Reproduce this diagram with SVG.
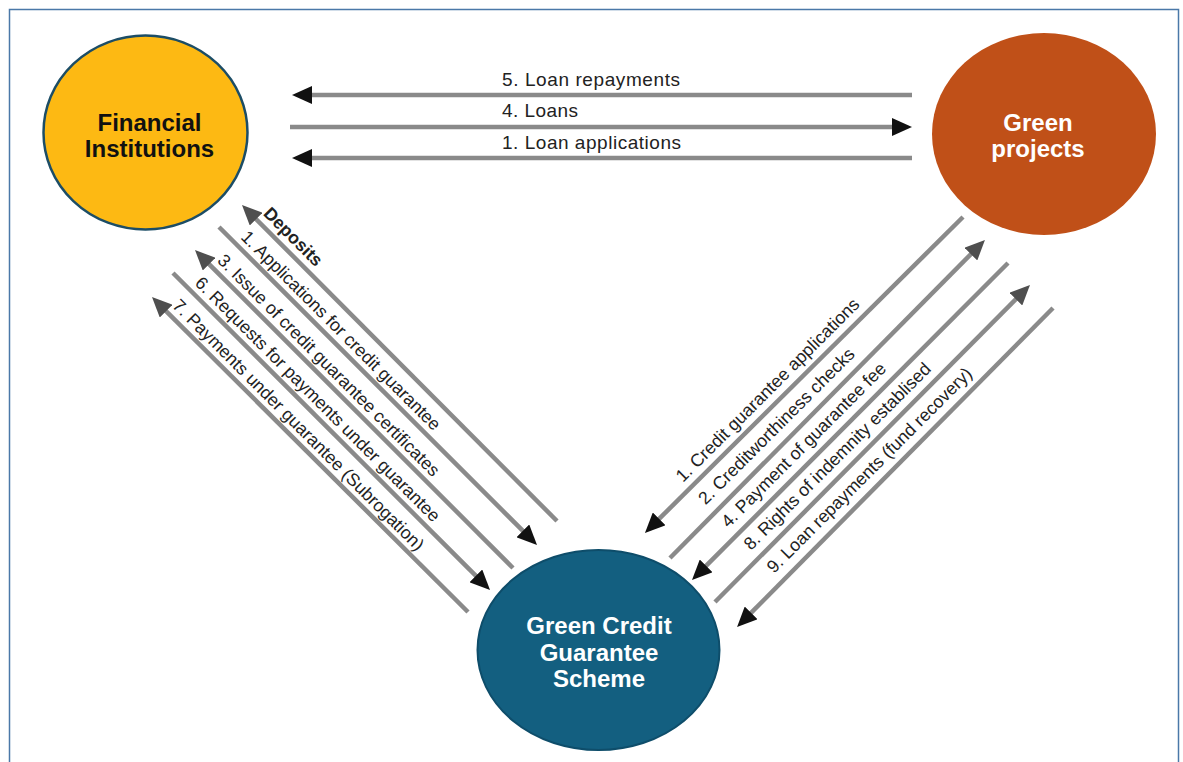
<svg xmlns="http://www.w3.org/2000/svg" width="1183" height="762" viewBox="0 0 1183 762">
  <style>
    .flow { fill: none; stroke: #8a8a8a; stroke-width: 4.5; }
    .fwd { marker-end: url(#headBlack); }
    .back { marker-end: url(#headGray); }
    .lbl { font-family: "Liberation Sans", Arial, sans-serif; font-size: 17.8px; fill: #222; }
    .top { font-size: 19px; }
    .node-text { font-family: "Liberation Sans", Arial, sans-serif; font-weight: bold; font-size: 24px; text-anchor: middle; }
  </style>
  <defs>
    <marker id="headBlack" viewBox="0 0 20 18" markerWidth="20" markerHeight="18" refX="4" refY="9" orient="auto" markerUnits="userSpaceOnUse">
      <path d="M0,0 L20,9 L0,18 Z" fill="#111"/>
    </marker>
    <marker id="headGray" viewBox="0 0 20 18" markerWidth="20" markerHeight="18" refX="4" refY="9" orient="auto" markerUnits="userSpaceOnUse">
      <path d="M0,0 L20,9 L0,18 Z" fill="#4f4f4f"/>
    </marker>
  </defs>

  <!-- page frame -->
  <rect x="0" y="0" width="1183" height="762" fill="#ffffff"/>
  <rect x="9.5" y="9.5" width="1169" height="800" fill="#ffffff" stroke="#4a78a8" stroke-width="1.5"/>

  <!-- connectors -->
  <g id="connectors">
    <!-- between Financial Institutions and Green projects -->
    <line class="flow fwd" x1="912" y1="95" x2="308" y2="95"/>
    <line class="flow fwd" x1="290" y1="127" x2="896" y2="127"/>
    <line class="flow fwd" x1="912" y1="158" x2="308" y2="158"/>

    <!-- between Financial Institutions and the scheme -->
    <line class="flow back" x1="557" y1="521" x2="253.3" y2="216.3"/>
    <line class="flow fwd" x1="219" y1="227" x2="525.7" y2="533.7"/>
    <line class="flow back" x1="513" y1="568" x2="206.3" y2="261.3"/>
    <line class="flow fwd" x1="173" y1="273" x2="478.7" y2="578.7"/>
    <line class="flow back" x1="468" y1="612" x2="163.3" y2="308.3"/>

    <!-- between Green projects and the scheme -->
    <line class="flow fwd" x1="963" y1="217" x2="656.3" y2="521.7"/>
    <line class="flow back" x1="670" y1="558" x2="973.7" y2="251.3"/>
    <line class="flow fwd" x1="1008" y1="263" x2="703.3" y2="568.7"/>
    <line class="flow back" x1="715" y1="602" x2="1018.7" y2="296.3"/>
    <line class="flow fwd" x1="1053" y1="308" x2="748.3" y2="615.7"/>

    <!-- labels -->
    <text class="lbl top" x="502" y="86" textLength="178">5. Loan repayments</text>
    <text class="lbl top" x="502" y="117" textLength="76">4. Loans</text>
    <text class="lbl top" x="502" y="149" textLength="179">1. Loan applications</text>

    <text class="lbl" transform="translate(262.5,214.5) rotate(45)" font-weight="bold" font-size="20" fill="#111">Deposits</text>
    <text class="lbl" transform="translate(240,238) rotate(45)">1. Applications for credit guarantee</text>
    <text class="lbl" transform="translate(216.5,261.5) rotate(45)">3. Issue of credit guarantee certificates</text>
    <text class="lbl" transform="translate(194,284) rotate(45)">6. Requests for payments under guarantee</text>
    <text class="lbl" transform="translate(171.5,306.5) rotate(45)">7. Payments under guarantee (Subrogation)</text>

    <text class="lbl" transform="translate(683,483) rotate(-45)">1. Credit guarantee applications</text>
    <text class="lbl" transform="translate(705.5,505.5) rotate(-45)">2. Creditworthiness checks</text>
    <text class="lbl" transform="translate(728.5,528.5) rotate(-45)">4. Payment of guarantee fee</text>
    <text class="lbl" transform="translate(751,551) rotate(-45)">8. Rights of indemnity establised</text>
    <text class="lbl" transform="translate(774,574) rotate(-45)">9. Loan repayments (fund recovery)</text>
  </g>

  <!-- nodes -->
  <g id="financial-institutions">
    <ellipse cx="145.5" cy="132.5" rx="102" ry="97" fill="#fdb913" stroke="#1c4d66" stroke-width="2.5"/>
    <text class="node-text" x="149.5" y="131" fill="#111">Financial</text>
    <text class="node-text" x="149.5" y="157" fill="#111">Institutions</text>
  </g>

  <g id="green-projects">
    <ellipse cx="1044" cy="134" rx="112" ry="101" fill="#c05018"/>
    <text class="node-text" x="1038" y="131" fill="#ffffff">Green</text>
    <text class="node-text" x="1038" y="157" fill="#ffffff">projects</text>
  </g>

  <g id="green-credit-guarantee-scheme">
    <ellipse cx="598.5" cy="650" rx="121" ry="100" fill="#135f80" stroke="#0e4d6a" stroke-width="2"/>
    <text class="node-text" x="599" y="634" fill="#ffffff">Green Credit</text>
    <text class="node-text" x="599" y="661" fill="#ffffff">Guarantee</text>
    <text class="node-text" x="599" y="687" fill="#ffffff">Scheme</text>
  </g>
</svg>
